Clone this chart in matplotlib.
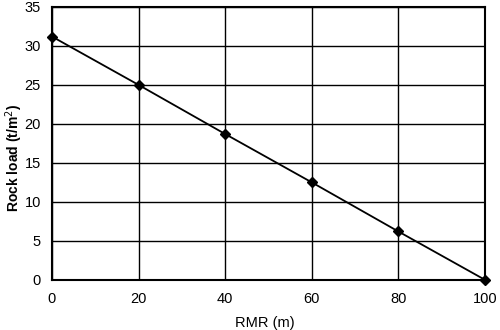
import matplotlib
matplotlib.use("Agg")
import matplotlib.pyplot as plt

# RMR versus rock load
rmr = [0, 20, 40, 60, 80, 100]
rock_load = [31.2, 25.0, 18.7, 12.5, 6.2, 0.0]

plt.rcParams['font.family'] = ['Liberation Sans', 'DejaVu Sans']

fig = plt.figure(figsize=(5, 3.3), dpi=100)
ax = fig.add_axes([0.104, 0.152, 0.866, 0.827])
ax.plot(rmr, rock_load, color='black', lw=1.3, marker='D', ms=5, clip_on=False, zorder=3)
ax.set_xlim(0, 100)
ax.set_ylim(0, 35)
ax.set_xticks(range(0, 101, 20))
ax.set_yticks(range(0, 36, 5))
ax.grid(True, color='black', lw=1.0)
for s in ax.spines.values():
    s.set_linewidth(1.5)
ax.tick_params(length=0, labelsize=10.5)
ax.tick_params(axis='y', pad=8)
ax.tick_params(axis='x', pad=9)
# axis titles placed as figure text so they stay inside the canvas
fig.text(0.53, 0.022, 'RMR (m)', fontsize=10.5, ha='center', va='center')
fig.text(0.028, 0.52, 'Rock load (t/m$^2$)', fontsize=10, fontweight='bold',
         rotation=90, ha='center', va='center')
fig.savefig('out.png')
